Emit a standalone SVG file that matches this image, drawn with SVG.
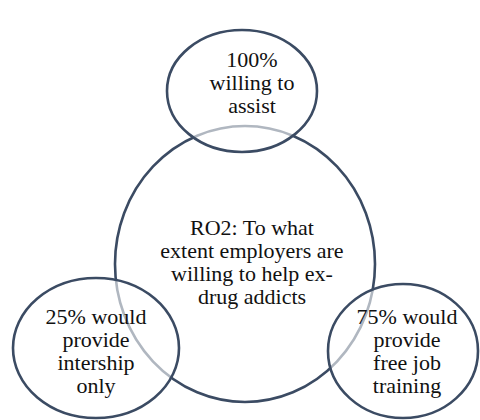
<svg xmlns="http://www.w3.org/2000/svg" width="480" height="420" viewBox="0 0 480 420">
<style>
.c{fill:#ffffff;fill-opacity:0.6;stroke:#3b4b63;stroke-width:2.6}
.big{fill:#ffffff;stroke:#3b4b63;stroke-width:2.6}
text{font-family:"Liberation Serif","Times New Roman","DejaVu Serif",serif;font-size:22px;fill:#111111;text-anchor:middle}
</style>
<rect width="480" height="420" fill="#ffffff"/>
<g id="center">
<ellipse class="big" cx="245" cy="264" rx="130" ry="138"/>
<text x="252" y="235">RO2: To what</text>
<text x="252" y="258">extent employers are</text>
<text x="252" y="281">willing to help ex-</text>
<text x="252" y="304">drug addicts</text>
</g>
<g id="top">
<ellipse class="c" cx="242" cy="91" rx="75" ry="61"/>
<text x="252" y="67">100%</text>
<text x="252" y="90">willing to</text>
<text x="252" y="113">assist</text>
</g>
<g id="left">
<ellipse class="c" cx="96" cy="348" rx="83" ry="70"/>
<text x="96" y="324">25% would</text>
<text x="96" y="347">provide</text>
<text x="96" y="370">intership</text>
<text x="96" y="393">only</text>
</g>
<g id="right">
<ellipse class="c" cx="403" cy="351" rx="75" ry="67"/>
<text x="407" y="324">75% would</text>
<text x="407" y="347">provide</text>
<text x="407" y="370">free job</text>
<text x="407" y="393">training</text>
</g>
<g id="connectors"></g>
</svg>
